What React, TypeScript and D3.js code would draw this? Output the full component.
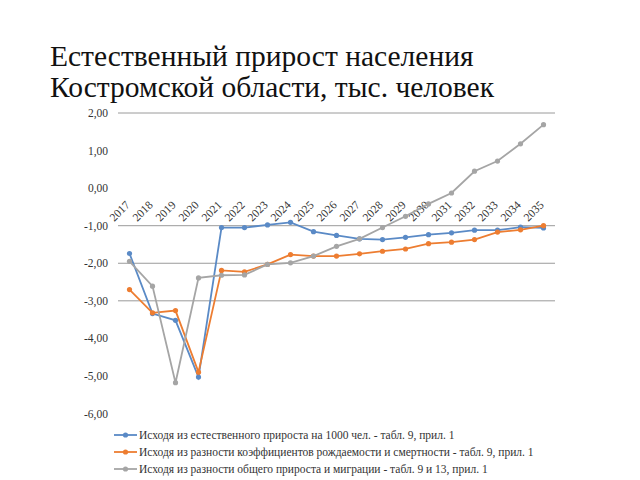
import React from "react";
import * as d3 from "d3";

const years = ["2017","2018","2019","2020","2021","2022","2023","2024","2025","2026","2027","2028","2029","2030","2031","2032","2033","2034","2035"];
const seriesNatural = [-1.74,-3.34,-3.52,-5.03,-1.05,-1.05,-0.98,-0.91,-1.16,-1.26,-1.35,-1.37,-1.31,-1.24,-1.19,-1.12,-1.12,-1.04,-1.06];
const seriesCoef = [-2.70,-3.32,-3.26,-4.90,-2.19,-2.23,-2.03,-1.77,-1.81,-1.81,-1.75,-1.68,-1.62,-1.48,-1.44,-1.37,-1.17,-1.11,-1.00];
const seriesMigr = [-1.95,-2.61,-5.18,-2.39,-2.32,-2.31,-2.03,-1.99,-1.81,-1.55,-1.35,-1.05,-0.75,-0.42,-0.13,0.45,0.72,1.18,1.69];
const yTicks = [2,1,0,-1,-2,-3,-4,-5,-6];
const gridValues = [2,-1,-2,-3];
const legendLabels = [
  "Исходя из естественного прироста на 1000 чел. - табл. 9, прил. 1",
  "Исходя из разности коэффициентов рождаемости и смертности - табл. 9, прил. 1",
  "Исходя из разности общего прироста и миграции - табл. 9 и 13, прил. 1",
];
const colors = ["#5A8AC6", "#ED7D31", "#A5A5A5"];
const titleLines = ["Естественный прирост населения", "Костромской области, тыс. человек"];

const fontParts = ["Liberation", "Serif"];

export default function App() {
  const FONT = `"${fontParts.join(" ")}", "Times New Roman", serif`;
  const W = 640, H = 480;
  const left = 118, right = 555, top = 113, bottom = 413.5;
  const x = d3.scaleBand<string>().domain(years).range([left, right]);
  const y = d3.scaleLinear().domain([-6, 2]).range([bottom, top]);
  const cx = (yr: string) => (x(yr) as number) + x.bandwidth() / 2;
  const all = [seriesNatural, seriesCoef, seriesMigr];
  const line = d3.line<number>().x((_, i) => cx(years[i])).y((v) => y(v));
  const fmt = (v: number) => v.toFixed(2).replace(".", ",");
  const fs = { fontFamily: FONT };

  return (
    <svg width={W} height={H} style={{ position: "absolute", left: 0, top: 0 }}>
      <rect width={W} height={H} fill="#fff" />
      {titleLines.map((t, i) => (
        <text key={i} x={50} y={66 + i * 31} fontSize={29.5} fill="#111" style={fs}>{t}</text>
      ))}
      {gridValues.map((v) => (
        <line key={v} x1={left} x2={right} y1={y(v)} y2={y(v)} stroke="#9a9a9a" strokeWidth={1} />
      ))}
      {yTicks.map((v) => (
        <text key={v} x={108} y={y(v)} dy="0.35em" textAnchor="end" fontSize={11.5} fill="#333" style={fs}>{fmt(v)}</text>
      ))}
      {years.map((yr) => (
        <text key={yr} x={cx(yr) - 10} y={211} dy="0.35em" textAnchor="middle" fontSize={11.5} fill="#333" style={fs}
          transform={`rotate(-45 ${cx(yr) - 10} 211)`}>{yr}</text>
      ))}
      {all.map((s, k) => (
        <g key={k}>
          <path d={line(s) || ""} fill="none" stroke={colors[k]} strokeWidth={1.8} />
          {s.map((v, i) => (
            <circle key={i} cx={cx(years[i])} cy={y(v)} r={2.6} fill={colors[k]} />
          ))}
        </g>
      ))}
      {legendLabels.map((t, k) => {
        const ly = 435 + k * 17;
        return (
          <g key={k}>
            <line x1={114} x2={137} y1={ly} y2={ly} stroke={colors[k]} strokeWidth={1.8} />
            <circle cx={125.5} cy={ly} r={2.6} fill={colors[k]} />
            <text x={139} y={ly} dy="0.35em" fontSize={11.5} fill="#333" style={fs}>{t}</text>
          </g>
        );
      })}
    </svg>
  );
}
